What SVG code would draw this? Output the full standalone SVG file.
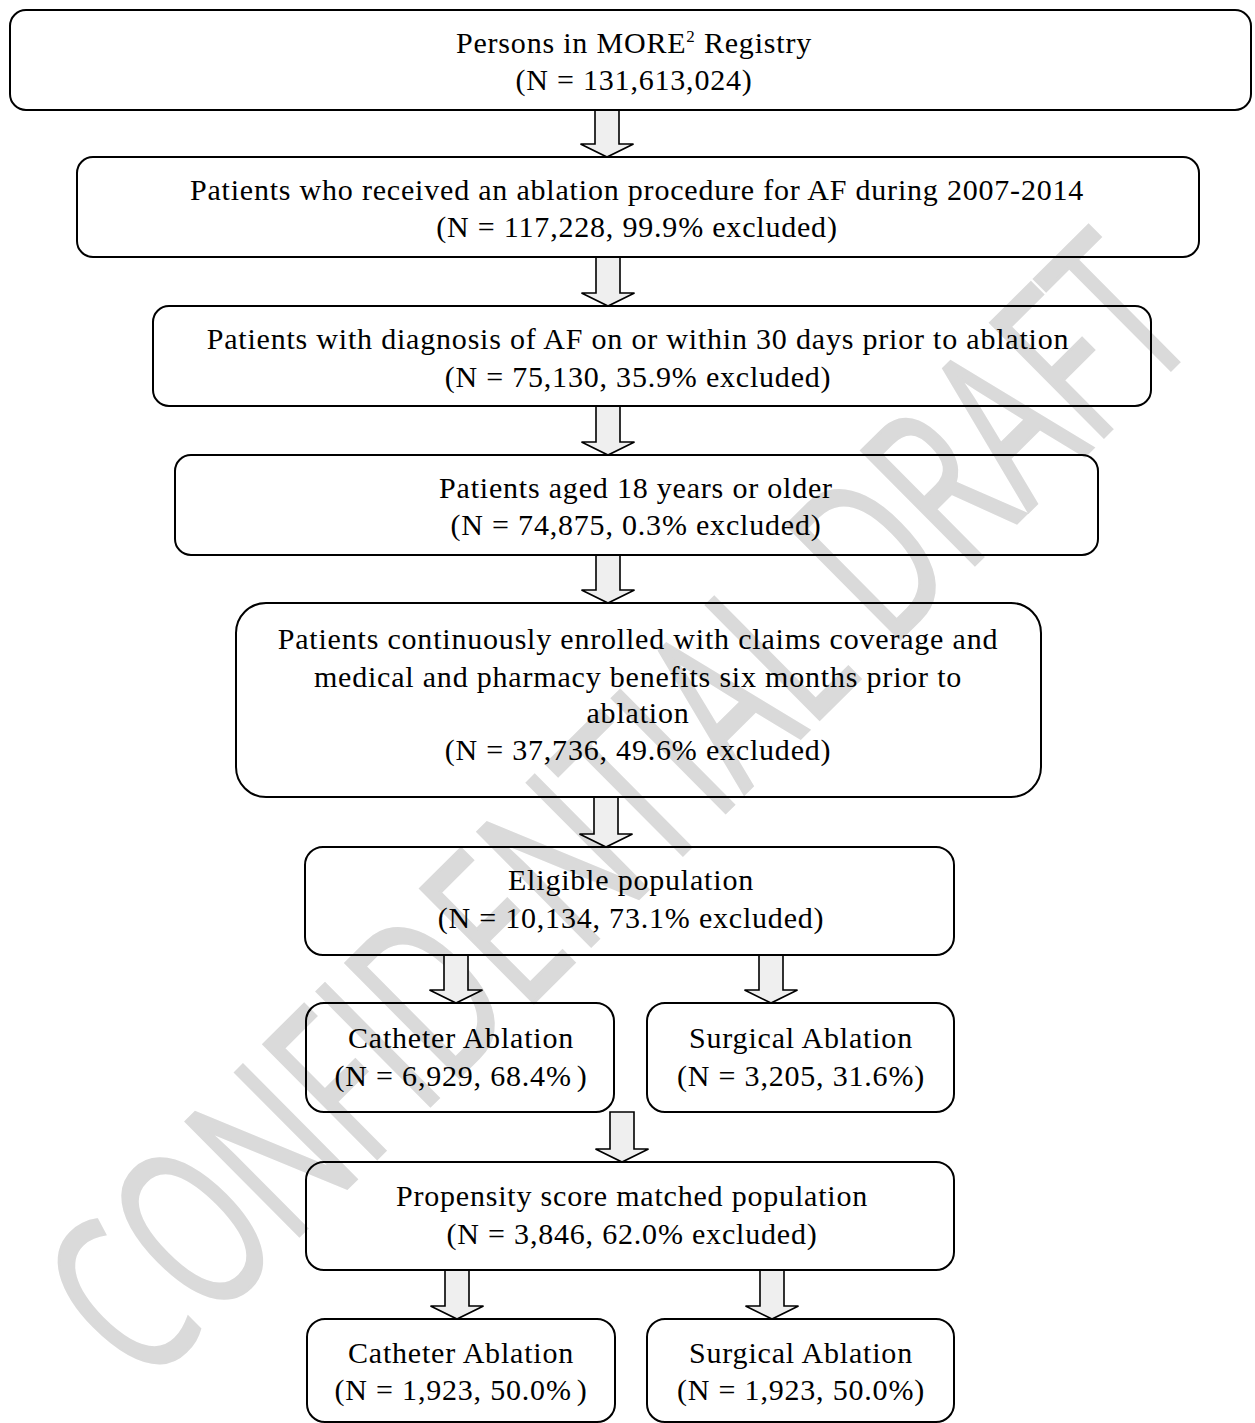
<svg xmlns="http://www.w3.org/2000/svg" width="1255" height="1423" viewBox="0 0 1255 1423">
<style>
.wm{font-family:"Open Sans","Liberation Sans",sans-serif;font-size:225px;fill:#dadada;stroke:#dadada;stroke-width:3;}
.box{fill:none;stroke:#000;stroke-width:2;}
.t{font-family:"Liberation Serif","Times New Roman",serif;font-size:30px;letter-spacing:0.8px;fill:#000;text-anchor:middle;}
.arr{fill:#efefef;stroke:#000;stroke-width:1.6;stroke-linejoin:miter;}
</style>
<rect width="1255" height="1423" fill="#fff"/>
<text class="wm" x="0" y="0" transform="translate(144,1390) rotate(-44.8)" textLength="1493" lengthAdjust="spacingAndGlyphs">CONFIDENTIAL DRAFT</text>
<g id="connectors">
<path class="arr" d="M595,110 H619 V144 H633.5 L607,157 L580.5,144 H595 Z"/>
<path class="arr" d="M596,257 H620 V293 H634.5 L608,306 L581.5,293 H596 Z"/>
<path class="arr" d="M596,406 H620 V442 H634.5 L608,455 L581.5,442 H596 Z"/>
<path class="arr" d="M596,555 H620 V590 H634.5 L608,603 L581.5,590 H596 Z"/>
<path class="arr" d="M594,797 H618 V834 H632.5 L606,847 L579.5,834 H594 Z"/>
<path class="arr" d="M444,955 H468 V990 H482.5 L456,1003 L429.5,990 H444 Z"/>
<path class="arr" d="M759,955 H783 V990 H797.5 L771,1003 L744.5,990 H759 Z"/>
<path class="arr" d="M610,1112 H634 V1149 H648.5 L622,1162 L595.5,1149 H610 Z"/>
<path class="arr" d="M445,1270 H469 V1306 H483.5 L457,1319 L430.5,1306 H445 Z"/>
<path class="arr" d="M760,1270 H784 V1306 H798.5 L772,1319 L745.5,1306 H760 Z"/>
</g>
<g id="registry">
<rect class="box" x="10" y="10" width="1241" height="100" rx="16"/>
<text class="t" x="634" y="53">Persons in MORE<tspan font-size="17" dy="-11">2</tspan><tspan dy="11"> Registry</tspan></text>
<text class="t" x="634" y="90">(N = 131,613,024)</text>
</g>
<g id="ablation">
<rect class="box" x="77" y="157" width="1122" height="100" rx="16"/>
<text class="t" x="637" y="200">Patients who received an ablation procedure for AF during 2007-2014</text>
<text class="t" x="637" y="237">(N = 117,228, 99.9% excluded)</text>
</g>
<g id="diagnosis">
<rect class="box" x="153" y="306" width="998" height="100" rx="16"/>
<text class="t" x="638" y="349">Patients with diagnosis of AF on or within 30 days prior to ablation</text>
<text class="t" x="638" y="387">(N = 75,130, 35.9% excluded)</text>
</g>
<g id="age">
<rect class="box" x="175" y="455" width="923" height="100" rx="16"/>
<text class="t" x="636" y="498">Patients aged 18 years or older</text>
<text class="t" x="636" y="535">(N = 74,875, 0.3% excluded)</text>
</g>
<g id="enrolled">
<rect class="box" x="236" y="603" width="805" height="194" rx="30"/>
<text class="t" x="638" y="649">Patients continuously enrolled with claims coverage and</text>
<text class="t" x="638" y="687">medical and pharmacy benefits six months prior to</text>
<text class="t" x="638" y="723">ablation</text>
<text class="t" x="638" y="760">(N = 37,736, 49.6% excluded)</text>
</g>
<g id="eligible">
<rect class="box" x="305" y="847" width="649" height="108" rx="18"/>
<text class="t" x="631" y="890">Eligible population</text>
<text class="t" x="631" y="928">(N = 10,134, 73.1% excluded)</text>
</g>
<g id="catheter1">
<rect class="box" x="306" y="1003" width="308" height="109" rx="18"/>
<text class="t" x="461" y="1048">Catheter Ablation</text>
<text class="t" x="461" y="1086">(N = 6,929, 68.4%<tspan dx="5">)</tspan></text>
</g>
<g id="surgical1">
<rect class="box" x="647" y="1003" width="307" height="109" rx="18"/>
<text class="t" x="801" y="1048">Surgical Ablation</text>
<text class="t" x="801" y="1086">(N = 3,205, 31.6%)</text>
</g>
<g id="matched">
<rect class="box" x="306" y="1162" width="648" height="108" rx="18"/>
<text class="t" x="632" y="1206">Propensity score matched population</text>
<text class="t" x="632" y="1244">(N = 3,846, 62.0% excluded)</text>
</g>
<g id="catheter2">
<rect class="box" x="307" y="1319" width="308" height="103" rx="18"/>
<text class="t" x="461" y="1363">Catheter Ablation</text>
<text class="t" x="461" y="1400">(N = 1,923, 50.0%<tspan dx="5">)</tspan></text>
</g>
<g id="surgical2">
<rect class="box" x="647" y="1319" width="307" height="103" rx="18"/>
<text class="t" x="801" y="1363">Surgical Ablation</text>
<text class="t" x="801" y="1400">(N = 1,923, 50.0%)</text>
</g>
</svg>
